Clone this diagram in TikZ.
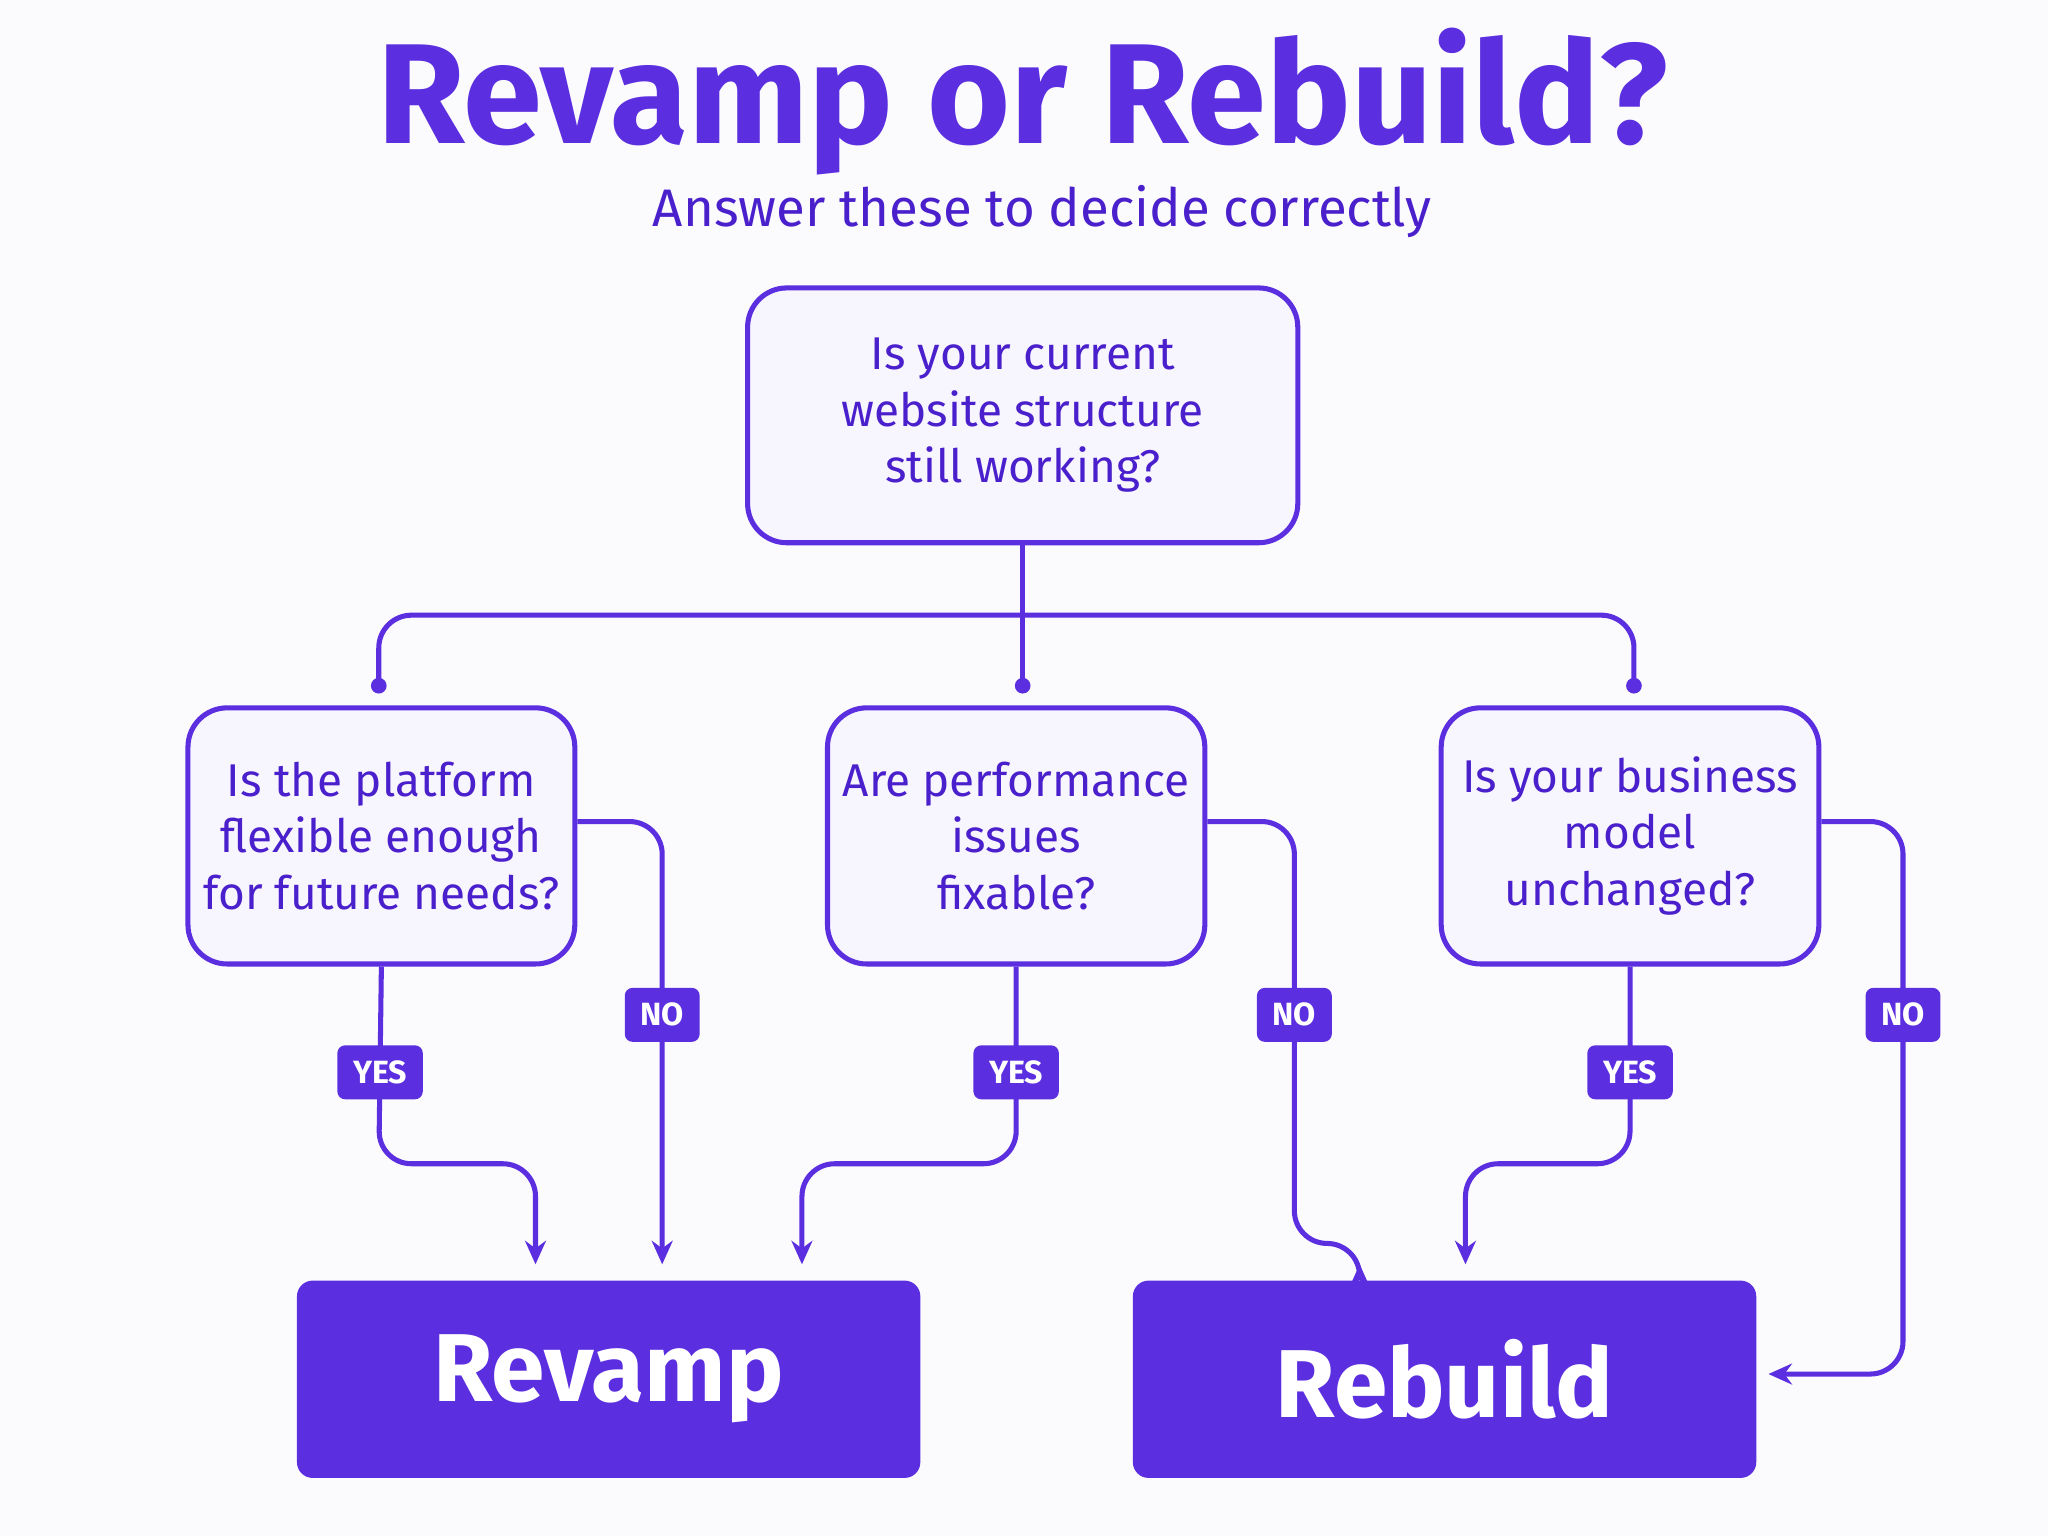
\documentclass[tikz,border=0pt]{standalone}
\usepackage{fontspec}
\setmainfont{Fira Sans}
\usetikzlibrary{positioning, arrows.meta, calc}
\definecolor{brand}{HTML}{5B2EE0}
\definecolor{ink}{HTML}{4A1FCC}
\definecolor{pale}{HTML}{F7F5FD}
\definecolor{bg}{HTML}{FBFBFD}

\begin{document}
\begin{tikzpicture}[x=0.01cm, y=-0.01cm,
        question/.style={rectangle, rounded corners=0.3cm, draw=brand, line width=1.1pt, fill=pale, align=center, text=ink, font=\fontsize{10}{12.3}\selectfont},
        result/.style={rectangle, rounded corners=0.12cm, fill=brand, text=white, font=\fontsize{21}{24}\selectfont\bfseries, minimum width=4.77cm, minimum height=1.51cm},
        tag/.style={rectangle, rounded corners=0.06cm, fill=brand, text=white, font=\fontsize{7}{8}\selectfont\bfseries, minimum height=0.4cm, inner xsep=0.12cm},
        link/.style={draw=brand, line width=1.1pt, rounded corners=0.25cm},
        arrow/.style={link, -{Stealth[length=0.18cm, width=0.16cm]}},
    ]
    \fill[bg] (0,0) rectangle (1568,1176);

    % Heading
    \node[text=brand, font=\fontsize{31}{34}\selectfont\bfseries] (title) at (783,78) {Revamp or Rebuild?};
    \node[text=ink, font=\fontsize{11.5}{14}\selectfont] (subtitle) at (798,162) {Answer these to decide correctly};

    % Questions
    \node[question, minimum width=4.21cm, minimum height=1.95cm] (root) at (783,318) {Is your current\\website structure\\still working?};
    \node[question, minimum width=2.9cm, minimum height=1.96cm] (platform) at (292,640) {Is the platform\\flexible enough\\for future needs?};
    \node[question, minimum width=2.88cm, minimum height=1.96cm] (speed) at (778,640) {Are performance\\issues\\fixable?};
    \node[question, minimum width=2.89cm, minimum height=1.96cm] (model) at (1248,640) {Is your business\\model\\unchanged?};

    % Outcomes
    \node[result] (revamp) at (466,1056) {Revamp};
    \node[result] (rebuild) at (1106,1056) {Rebuild};

    % Branching
    \coordinate (split) at (783,471);
    \draw[link] (root.south) -- (split);
    \draw[link] (split) -- (290,471) -- (290,525);
    \draw[link] (split) -- (1251,471) -- (1251,525);
    \draw[link] (split) -- (783,525);
    \foreach \x in {290,783,1251} \fill[brand] (\x,525) circle (0.06cm);

    % Answers
    \draw[arrow] (platform.south) -- (290,891) -- (410,891) -- (410,968);
    \draw[arrow] (platform.east |- 0,629) -- (507,629) -- (507,968);
    \draw[arrow] (speed.south) -- (778,891) -- (614,891) -- (614,968);
    \draw[arrow] (speed.east |- 0,629) -- (991,629) -- (991,952) -- (1041,952) -- (1041,968);
    \draw[arrow] (model.south) -- (1248,891) -- (1122,891) -- (1122,968);
    \draw[arrow] (model.east |- 0,629) -- (1457,629) -- (1457,1052) -- (1354,1052);

    \node[tag] (yes1) at (291,821) {YES};
    \node[tag] (yes2) at (778,821) {YES};
    \node[tag] (yes3) at (1248,821) {YES};
    \node[tag] (no1) at (507,777) {NO};
    \node[tag] (no2) at (991,777) {NO};
    \node[tag] (no3) at (1457,777) {NO};
\end{tikzpicture}
\end{document}
